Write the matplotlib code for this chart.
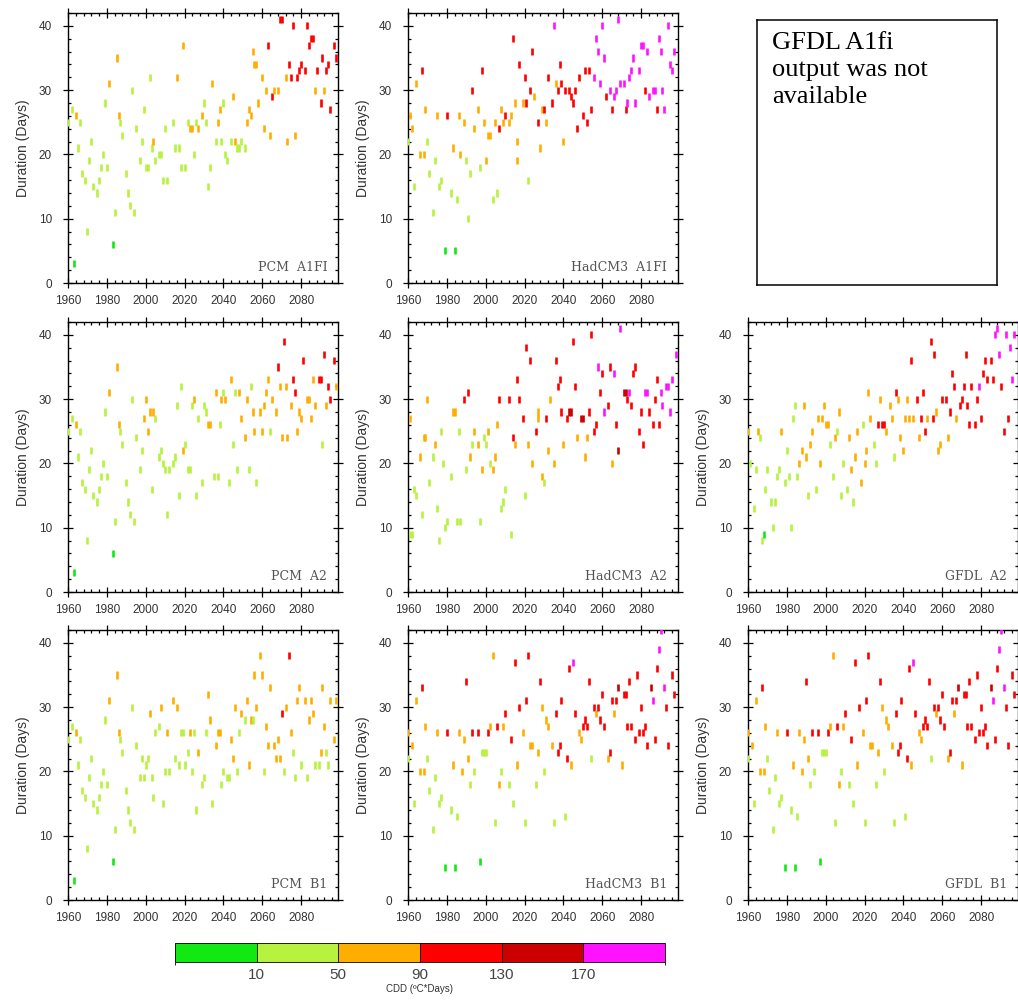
"""Duration of cooling-degree-day spells, 1960-2099, per model / scenario.

3x3 grid of NCL-style panels, markers coloured by CDD class, shared colour bar.
"""
import matplotlib
matplotlib.use("Agg")
import matplotlib as mpl
import matplotlib.pyplot as plt
from matplotlib.colors import ListedColormap, BoundaryNorm
from matplotlib.ticker import MultipleLocator

# CDD classes (1..6) -> colour; boundaries shown on the colour bar
CDD_BOUNDS = [10, 50, 90, 130, 170]
CDD_COLORS = ["#12e812", "#b6f23e", "#ffae00", "#ff0000", "#cc0000", "#ff12ff"]
CBAR_LABEL = "CDD (ºC*Days)"

# (year, duration in days, CDD class)
PCM_HIST = [
    (1960, 25, 2), (1962, 27, 2), (1963, 3, 1), (1964, 26, 3), (1965, 21, 2), (1966, 25, 2),
    (1967, 17, 2), (1969, 16, 2), (1970, 8, 2), (1971, 19, 2), (1972, 22, 2), (1973, 15, 2),
    (1975, 14, 2), (1976, 16, 2), (1977, 18, 2), (1978, 20, 2), (1979, 28, 2), (1980, 18, 2),
    (1981, 31, 3), (1983, 6, 1), (1984, 11, 2), (1985, 35, 3), (1986, 26, 3), (1987, 25, 2),
    (1988, 23, 2), (1990, 17, 2), (1991, 14, 2), (1992, 12, 2), (1993, 30, 2), (1994, 11, 2),
    (1995, 24, 2), (1997, 19, 2), (1998, 22, 2),
]
PCM_A1FI = PCM_HIST + [
    (1999, 27, 2), (2000, 18, 2), (2001, 18, 2), (2002, 32, 2), (2003, 21, 2), (2004, 22, 3),
    (2005, 19, 2), (2007, 20, 2), (2008, 20, 2), (2009, 16, 2), (2010, 24, 2), (2011, 16, 2),
    (2014, 25, 2), (2015, 21, 2), (2016, 32, 3), (2017, 21, 2), (2018, 18, 2), (2019, 37, 3),
    (2020, 18, 2), (2022, 25, 2), (2023, 24, 3), (2024, 24, 3), (2025, 20, 2), (2026, 25, 2),
    (2027, 24, 3), (2029, 26, 3), (2030, 28, 2), (2031, 25, 2), (2032, 15, 2), (2033, 18, 2),
    (2034, 31, 3), (2036, 22, 2), (2037, 25, 3), (2038, 27, 3), (2039, 22, 2), (2040, 28, 2),
    (2041, 20, 2), (2042, 19, 2), (2044, 22, 2), (2045, 29, 3), (2046, 22, 3), (2047, 21, 2),
    (2048, 21, 2), (2049, 22, 2), (2051, 21, 2), (2052, 25, 3), (2053, 27, 3), (2054, 26, 3),
    (2055, 36, 3), (2056, 34, 3), (2057, 34, 3), (2058, 28, 3), (2060, 32, 3), (2061, 24, 3),
    (2062, 30, 3), (2063, 37, 4), (2064, 23, 3), (2065, 29, 4), (2066, 30, 3), (2068, 30, 3),
    (2069, 41, 4), (2070, 41, 4), (2072, 32, 3), (2073, 22, 3), (2074, 34, 4), (2075, 32, 4),
    (2076, 40, 4), (2077, 23, 3), (2078, 32, 4), (2079, 33, 4), (2080, 34, 4), (2082, 33, 4),
    (2083, 40, 4), (2084, 37, 4), (2085, 38, 4), (2086, 38, 4), (2087, 30, 3), (2088, 33, 4),
    (2090, 28, 4), (2091, 35, 4), (2092, 30, 3), (2093, 33, 4), (2094, 34, 4), (2095, 27, 4),
    (2097, 37, 4), (2098, 35, 4),
]
PCM_A2 = PCM_HIST + [
    (1999, 27, 3), (2000, 30, 3), (2001, 25, 3), (2002, 28, 3), (2003, 16, 2), (2004, 28, 3),
    (2005, 27, 2), (2007, 21, 2), (2008, 22, 2), (2009, 20, 2), (2010, 19, 2), (2011, 12, 2),
    (2012, 19, 2), (2014, 20, 2), (2015, 21, 2), (2016, 29, 2), (2017, 15, 2), (2018, 32, 2),
    (2019, 22, 3), (2020, 23, 2), (2022, 19, 2), (2023, 19, 2), (2024, 29, 2), (2025, 30, 3),
    (2026, 15, 2), (2027, 27, 2), (2029, 17, 2), (2030, 29, 2), (2031, 28, 2), (2032, 26, 3),
    (2033, 26, 3), (2035, 18, 2), (2036, 31, 3), (2037, 18, 2), (2038, 26, 2), (2039, 30, 3),
    (2040, 31, 2), (2041, 30, 3), (2043, 17, 2), (2044, 33, 3), (2045, 23, 2), (2046, 31, 2),
    (2047, 19, 2), (2048, 31, 3), (2049, 27, 3), (2051, 24, 3), (2052, 30, 3), (2053, 19, 2),
    (2054, 32, 2), (2055, 28, 3), (2056, 25, 3), (2057, 17, 2), (2059, 28, 3), (2060, 25, 3),
    (2061, 29, 3), (2062, 31, 3), (2063, 33, 3), (2064, 25, 2), (2065, 30, 3), (2067, 28, 3),
    (2068, 35, 4), (2069, 32, 3), (2070, 24, 3), (2071, 39, 4), (2072, 32, 3), (2073, 24, 3),
    (2075, 29, 3), (2076, 33, 4), (2077, 31, 4), (2078, 25, 3), (2079, 28, 3), (2080, 27, 3),
    (2081, 36, 4), (2083, 30, 3), (2084, 30, 3), (2085, 27, 3), (2086, 33, 3), (2087, 29, 3),
    (2089, 33, 4), (2090, 33, 4), (2091, 23, 2), (2092, 37, 4), (2093, 29, 3), (2094, 32, 4),
    (2095, 30, 4), (2097, 36, 4), (2098, 32, 3),
]
PCM_B1 = PCM_HIST + [
    (1999, 19, 2), (2000, 21, 2), (2001, 22, 2), (2002, 29, 3), (2003, 19, 2), (2004, 16, 2),
    (2005, 26, 2), (2007, 27, 2), (2008, 30, 3), (2009, 15, 2), (2010, 20, 2), (2011, 26, 3),
    (2012, 20, 2), (2014, 31, 3), (2015, 22, 2), (2016, 30, 3), (2017, 21, 2), (2018, 26, 2),
    (2019, 26, 2), (2020, 21, 2), (2022, 23, 2), (2023, 26, 3), (2024, 20, 2), (2025, 26, 2),
    (2026, 14, 2), (2027, 23, 3), (2029, 18, 2), (2030, 19, 2), (2031, 26, 2), (2032, 32, 3),
    (2033, 28, 3), (2034, 15, 2), (2036, 24, 3), (2037, 26, 3), (2038, 26, 3), (2039, 18, 2),
    (2040, 20, 2), (2042, 19, 2), (2043, 19, 2), (2044, 25, 3), (2045, 22, 3), (2046, 30, 3),
    (2047, 20, 2), (2048, 26, 2), (2049, 29, 3), (2051, 28, 2), (2052, 31, 3), (2053, 21, 3),
    (2054, 28, 3), (2055, 28, 2), (2056, 35, 3), (2057, 30, 3), (2059, 38, 3), (2060, 35, 3),
    (2061, 20, 2), (2062, 27, 3), (2063, 24, 3), (2064, 33, 3), (2066, 24, 3), (2067, 22, 3),
    (2068, 25, 3), (2069, 22, 3), (2070, 29, 4), (2071, 20, 2), (2072, 30, 3), (2074, 38, 4),
    (2075, 26, 3), (2076, 23, 2), (2077, 19, 2), (2078, 31, 3), (2079, 33, 3), (2080, 21, 2),
    (2082, 31, 3), (2083, 19, 2), (2084, 28, 3), (2085, 31, 3), (2086, 29, 3), (2087, 21, 2),
    (2089, 21, 2), (2090, 23, 3), (2091, 33, 3), (2092, 27, 3), (2093, 23, 2), (2094, 21, 2),
    (2095, 31, 3), (2097, 25, 3), (2098, 31, 3),
]
HAD_A1FI = [
    (1960, 22, 2), (1961, 26, 3), (1962, 24, 3), (1963, 15, 2), (1964, 31, 3), (1966, 20, 3),
    (1967, 33, 4), (1968, 20, 3), (1969, 27, 3), (1970, 22, 2), (1971, 17, 2), (1973, 11, 2),
    (1974, 19, 2), (1975, 26, 3), (1976, 15, 2), (1977, 16, 2), (1979, 5, 1), (1980, 26, 4),
    (1982, 14, 2), (1983, 21, 3), (1984, 5, 1), (1985, 13, 2), (1986, 26, 3), (1987, 20, 3),
    (1989, 25, 3), (1990, 19, 2), (1991, 10, 2), (1992, 17, 2), (1993, 30, 4), (1994, 24, 3),
    (1996, 27, 3), (1997, 18, 2), (1998, 33, 4), (1999, 25, 3), (2000, 19, 3), (2001, 23, 3),
    (2002, 23, 3), (2004, 13, 2), (2005, 25, 3), (2006, 14, 2), (2007, 24, 4), (2008, 27, 3),
    (2009, 25, 3), (2010, 26, 4), (2012, 25, 3), (2013, 26, 3), (2014, 38, 4), (2015, 28, 3),
    (2016, 19, 3), (2016, 22, 3), (2017, 34, 4), (2019, 28, 3), (2020, 32, 4), (2021, 28, 4),
    (2022, 16, 2), (2023, 30, 4), (2024, 36, 4), (2025, 29, 3), (2027, 25, 4), (2028, 21, 3),
    (2029, 27, 3), (2030, 27, 4), (2031, 25, 3), (2032, 32, 4), (2034, 28, 4), (2035, 40, 6),
    (2036, 31, 3), (2037, 30, 4), (2038, 34, 4), (2039, 31, 4), (2040, 22, 3), (2041, 30, 4),
    (2043, 30, 4), (2044, 29, 4), (2045, 28, 4), (2046, 30, 4), (2047, 24, 4), (2048, 32, 4),
    (2050, 26, 4), (2051, 33, 4), (2052, 25, 4), (2053, 33, 4), (2054, 27, 4), (2056, 32, 6),
    (2057, 38, 6), (2058, 36, 6), (2059, 31, 6), (2060, 40, 6), (2061, 35, 6), (2062, 29, 4),
    (2064, 30, 6), (2065, 27, 4), (2066, 29, 6), (2067, 30, 6), (2068, 41, 6), (2069, 31, 6),
    (2071, 31, 6), (2072, 27, 4), (2073, 28, 6), (2074, 32, 6), (2075, 33, 6), (2076, 35, 6),
    (2077, 28, 6), (2079, 33, 6), (2080, 37, 6), (2081, 37, 6), (2082, 30, 4), (2083, 36, 6),
    (2084, 29, 6), (2086, 30, 6), (2087, 30, 6), (2088, 27, 4), (2089, 38, 6), (2090, 36, 6),
    (2091, 30, 6), (2092, 27, 6), (2094, 40, 6), (2095, 34, 6), (2096, 33, 6), (2097, 36, 6),
]
HAD_A2 = [
    (1961, 27, 3), (1961, 9, 2), (1962, 9, 2), (1963, 16, 2), (1964, 15, 2), (1966, 21, 3),
    (1967, 12, 2), (1968, 24, 3), (1969, 24, 3), (1970, 30, 3), (1971, 17, 2), (1973, 21, 2),
    (1974, 23, 3), (1975, 13, 2), (1976, 8, 2), (1977, 25, 2), (1978, 20, 2), (1979, 10, 2),
    (1980, 11, 2), (1982, 18, 2), (1983, 28, 3), (1984, 28, 3), (1985, 11, 2), (1986, 25, 2),
    (1987, 11, 2), (1989, 30, 4), (1990, 19, 2), (1991, 31, 4), (1992, 21, 3), (1993, 23, 2),
    (1994, 25, 3), (1996, 23, 3), (1997, 11, 2), (1998, 19, 3), (1999, 24, 2), (2000, 23, 2),
    (2001, 25, 3), (2002, 20, 2), (2004, 19, 3), (2005, 21, 3), (2006, 26, 3), (2007, 30, 4),
    (2008, 13, 2), (2009, 14, 2), (2010, 16, 2), (2012, 30, 4), (2013, 9, 2), (2014, 24, 4),
    (2015, 23, 3), (2016, 33, 4), (2017, 30, 4), (2019, 27, 4), (2020, 15, 2), (2021, 38, 4),
    (2022, 23, 3), (2023, 36, 4), (2024, 20, 3), (2026, 25, 4), (2027, 28, 3), (2027, 27, 3),
    (2029, 18, 3), (2030, 17, 2), (2031, 27, 4), (2032, 22, 3), (2033, 30, 3), (2035, 20, 3),
    (2036, 36, 4), (2037, 32, 4), (2038, 33, 4), (2039, 28, 4), (2040, 23, 3), (2042, 27, 4),
    (2043, 28, 5), (2044, 28, 5), (2045, 39, 4), (2046, 32, 4), (2047, 24, 3), (2049, 27, 5),
    (2050, 27, 5), (2051, 21, 3), (2052, 24, 3), (2053, 28, 4), (2054, 40, 4), (2056, 25, 4),
    (2057, 26, 4), (2058, 35, 6), (2059, 31, 4), (2060, 34, 4), (2061, 28, 6), (2063, 29, 4),
    (2064, 35, 4), (2065, 20, 3), (2066, 34, 6), (2067, 26, 4), (2068, 22, 5), (2069, 41, 6),
    (2071, 31, 5), (2072, 31, 5), (2073, 30, 4), (2074, 31, 6), (2075, 29, 4), (2076, 34, 4),
    (2077, 35, 4), (2079, 25, 4), (2080, 28, 4), (2081, 23, 4), (2082, 31, 6), (2083, 31, 6),
    (2084, 28, 4), (2086, 26, 4), (2087, 30, 4), (2088, 33, 4), (2089, 26, 4), (2090, 31, 6),
    (2091, 29, 6), (2093, 32, 6), (2094, 32, 6), (2095, 28, 6), (2096, 33, 6), (2098, 37, 6),
]
HAD_B1 = [
    (1960, 26, 3), (1960, 22, 2), (1962, 24, 3), (1963, 15, 2), (1964, 31, 3), (1966, 20, 3),
    (1967, 33, 4), (1968, 20, 3), (1969, 27, 3), (1970, 22, 2), (1971, 17, 2), (1973, 11, 2),
    (1974, 19, 2), (1975, 26, 3), (1976, 15, 2), (1977, 16, 2), (1979, 5, 1), (1980, 26, 4),
    (1982, 14, 2), (1983, 21, 3), (1984, 5, 1), (1985, 13, 2), (1986, 26, 3), (1988, 20, 3),
    (1989, 25, 3), (1990, 34, 4), (1991, 22, 3), (1992, 18, 2), (1993, 26, 4), (1994, 20, 2),
    (1996, 26, 4), (1997, 6, 1), (1998, 23, 2), (1999, 23, 2), (2000, 23, 2), (2001, 26, 4),
    (2002, 27, 3), (2004, 38, 3), (2005, 12, 2), (2006, 27, 4), (2007, 18, 3), (2008, 20, 2),
    (2009, 27, 3), (2010, 29, 4), (2012, 18, 2), (2013, 25, 4), (2014, 15, 2), (2015, 37, 4),
    (2016, 21, 3), (2017, 30, 4), (2019, 26, 3), (2020, 12, 2), (2021, 31, 4), (2022, 38, 4),
    (2023, 24, 3), (2024, 24, 3), (2026, 18, 2), (2027, 23, 3), (2028, 34, 4), (2029, 30, 3),
    (2030, 20, 2), (2031, 28, 3), (2032, 27, 3), (2034, 24, 3), (2035, 12, 2), (2036, 29, 4),
    (2037, 23, 4), (2038, 24, 4), (2039, 31, 4), (2041, 13, 2), (2042, 22, 4), (2043, 36, 4),
    (2044, 21, 3), (2045, 37, 6), (2046, 29, 4), (2048, 26, 3), (2049, 25, 3), (2050, 27, 4),
    (2051, 28, 4), (2052, 27, 4), (2053, 34, 4), (2054, 22, 2), (2056, 30, 4), (2057, 29, 3),
    (2058, 30, 4), (2059, 28, 4), (2060, 32, 4), (2061, 27, 4), (2063, 22, 3), (2064, 23, 4),
    (2065, 31, 4), (2066, 29, 3), (2067, 31, 4), (2068, 33, 5), (2070, 21, 3), (2071, 32, 4),
    (2072, 32, 4), (2073, 27, 4), (2074, 34, 4), (2075, 27, 4), (2077, 25, 4), (2078, 35, 4),
    (2079, 26, 4), (2080, 30, 4), (2081, 26, 4), (2082, 27, 4), (2083, 24, 4), (2085, 33, 5),
    (2086, 31, 6), (2087, 25, 4), (2088, 36, 4), (2089, 39, 6), (2090, 42, 6), (2092, 33, 6),
    (2093, 30, 4), (2094, 24, 4), (2096, 35, 4), (2097, 32, 4),
]
GFDL_A2 = [
    (1960, 25, 3), (1961, 20, 2), (1963, 13, 2), (1964, 19, 2), (1965, 25, 3), (1966, 24, 2),
    (1967, 8, 2), (1968, 9, 1), (1969, 16, 2), (1970, 19, 2), (1972, 14, 2), (1973, 10, 2),
    (1974, 14, 2), (1975, 18, 2), (1976, 19, 2), (1977, 25, 3), (1979, 17, 2), (1980, 22, 2),
    (1981, 18, 2), (1982, 10, 2), (1983, 27, 2), (1984, 29, 2), (1985, 18, 2), (1986, 20, 3),
    (1988, 22, 3), (1989, 29, 3), (1990, 21, 3), (1991, 15, 2), (1992, 23, 3), (1993, 25, 3),
    (1995, 16, 2), (1996, 27, 3), (1997, 20, 3), (1998, 27, 3), (1999, 29, 3), (2000, 26, 3),
    (2001, 26, 3), (2002, 23, 2), (2004, 18, 2), (2005, 24, 3), (2006, 25, 2), (2007, 28, 3),
    (2008, 15, 2), (2009, 20, 2), (2011, 16, 2), (2012, 24, 3), (2013, 19, 3), (2014, 14, 2),
    (2015, 21, 3), (2016, 25, 3), (2018, 17, 3), (2019, 26, 2), (2020, 20, 3), (2021, 22, 3),
    (2022, 31, 3), (2023, 27, 3), (2025, 23, 2), (2026, 20, 2), (2027, 26, 4), (2028, 30, 3),
    (2029, 26, 4), (2030, 26, 4), (2031, 25, 3), (2033, 29, 3), (2034, 27, 3), (2035, 21, 2),
    (2036, 31, 4), (2037, 30, 3), (2038, 24, 3), (2040, 22, 3), (2041, 27, 3), (2042, 30, 3),
    (2043, 27, 3), (2044, 36, 4), (2045, 27, 3), (2047, 30, 4), (2048, 24, 3), (2049, 27, 4),
    (2050, 31, 4), (2051, 25, 4), (2052, 27, 3), (2054, 39, 4), (2055, 27, 4), (2056, 37, 4),
    (2057, 28, 3), (2058, 22, 3), (2059, 23, 3), (2060, 30, 4), (2062, 30, 4), (2063, 24, 3),
    (2064, 28, 4), (2065, 34, 4), (2066, 32, 4), (2067, 27, 3), (2069, 29, 4), (2070, 30, 4),
    (2071, 32, 4), (2072, 37, 4), (2073, 29, 4), (2074, 26, 4), (2075, 32, 4), (2077, 26, 4),
    (2078, 30, 4), (2079, 32, 6), (2080, 27, 4), (2081, 34, 4), (2082, 36, 4), (2083, 33, 4),
    (2085, 36, 4), (2086, 33, 4), (2087, 40, 6), (2088, 41, 6), (2089, 37, 6), (2090, 32, 4),
    (2092, 25, 4), (2093, 40, 6), (2094, 27, 4), (2095, 38, 6), (2096, 33, 6), (2097, 40, 6),
]
# the source figure repeats the HadCM3 B1 panel as GFDL B1
GFDL_B1 = HAD_B1

# (label, data, column, row)
PANELS = [
    ("PCM  A1FI", PCM_A1FI, 0, 0), ("HadCM3  A1FI", HAD_A1FI, 1, 0),
    ("PCM  A2", PCM_A2, 0, 1), ("HadCM3  A2", HAD_A2, 1, 1), ("GFDL  A2", GFDL_A2, 2, 1),
    ("PCM  B1", PCM_B1, 0, 2), ("HadCM3  B1", HAD_B1, 1, 2), ("GFDL  B1", GFDL_B1, 2, 2),
]
NOTE = "GFDL A1fi\noutput was not\navailable"

W, H = 1018, 1005
COL_X = [68, 408, 748]
ROW_Y = [13, 322, 630]
PW, PH = 270, 270

plt.rcParams.update({"font.family": "Liberation Sans"})
fig = plt.figure(figsize=(W / 100, H / 100), dpi=100)

for label, data, c, r in PANELS:
    ax = fig.add_axes([COL_X[c] / W, 1 - (ROW_Y[r] + PH) / H, PW / W, PH / H])
    yrs = [d[0] for d in data]
    dur = [d[1] for d in data]
    cols = [CDD_COLORS[d[2] - 1] for d in data]
    ax.scatter(yrs, dur, c=cols, marker="|", s=26, linewidths=1.9, zorder=3)
    ax.set_xlim(1960, 2099)
    ax.set_ylim(0, 42)
    ax.xaxis.set_major_locator(MultipleLocator(20))
    ax.xaxis.set_minor_locator(MultipleLocator(4))
    ax.yaxis.set_major_locator(MultipleLocator(10))
    ax.yaxis.set_minor_locator(MultipleLocator(2))
    ax.tick_params(which="both", top=True, right=True, colors="black",
                   labelcolor="#333333", width=0.9)
    ax.tick_params(which="major", direction="inout", length=7)
    ax.tick_params(which="minor", direction="in", length=2.5)
    ax.tick_params(axis="y", labelsize=8.5, pad=8)
    ax.tick_params(axis="x", labelsize=8.5, pad=5)
    ax.set_xticks(range(1960, 2081, 20))
    for s in ax.spines.values():
        s.set_linewidth(1.0)
    ax.set_ylabel("Duration (Days)", fontsize=10, color="#333333", labelpad=6)
    ax.text(0.96, 0.035, label, transform=ax.transAxes, ha="right", va="bottom",
            family="DejaVu Serif", fontsize=9, color="#555555")

# note box in place of the missing panel
nax = fig.add_axes([757 / W, 1 - 285 / H, 240 / W, 265 / H])
nax.set_xticks([]); nax.set_yticks([])
for s in nax.spines.values():
    s.set_linewidth(1.1)
nax.text(0.063, 0.955, NOTE, transform=nax.transAxes, ha="left", va="top",
         family="Liberation Serif", fontsize=19, linespacing=1.3)

# colour bar
cax = fig.add_axes([175 / W, 1 - 962 / H, 490 / W, 19 / H])
cmap = ListedColormap(CDD_COLORS)
edges = [CDD_BOUNDS[0] - 40] + CDD_BOUNDS + [CDD_BOUNDS[-1] + 40]
norm = BoundaryNorm(edges, cmap.N)
cb = mpl.colorbar.ColorbarBase(cax, cmap=cmap, norm=norm, orientation="horizontal",
                               ticks=CDD_BOUNDS, drawedges=True)
cb.outline.set_linewidth(0.6)
cb.dividers.set_linewidth(0.6)
cax.tick_params(length=0, labelsize=11, labelcolor="#444444", pad=4)
cax.set_xlabel(CBAR_LABEL, fontsize=7, color="#333333", labelpad=2)

fig.savefig("out.png", dpi=100)
